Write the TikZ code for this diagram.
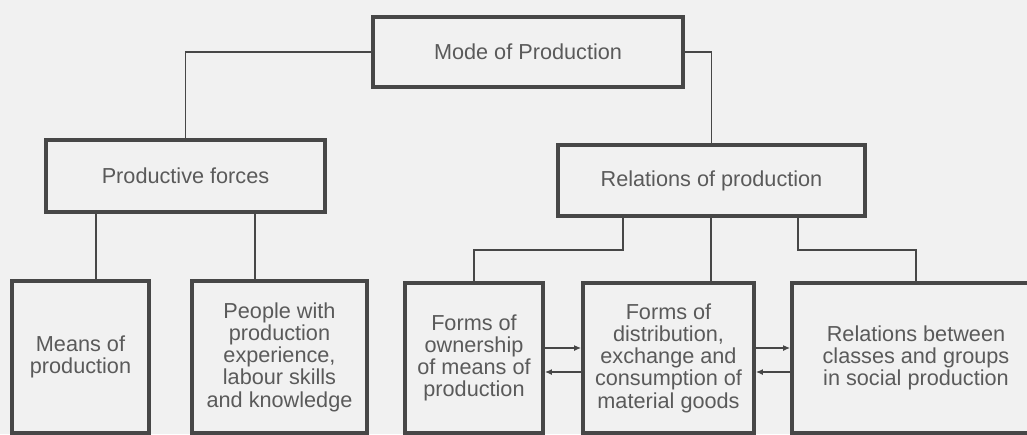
\documentclass[tikz,border=0pt]{standalone}
\usepackage{fontspec}
\setmainfont{Liberation Sans}
\usetikzlibrary{arrows.meta,positioning}
\definecolor{ink}{HTML}{474747}
\definecolor{paper}{HTML}{F1F1F1}

\begin{document}
\begin{tikzpicture}[x=0.03cm, y=-0.03cm, >={Latex[length=6pt,width=5pt]},
  font=\fontsize{18.5}{19}\selectfont,
  box/.style={draw=ink, line width=3pt, text=ink!90, align=center, inner sep=0pt},
  link/.style={draw=ink, line width=1.6pt}]

% page area
\clip (0,0) rectangle (1027,434);
\fill[paper] (0,0) rectangle (1027,434);

%--------------------
% Top: mode of production and its two halves
%--------------------
\node[box, minimum width=9.3cm, minimum height=2.1cm] (modeProd) at (528,52) {Mode of Production};
\node[box, minimum width=8.37cm, minimum height=2.16cm] (prodForces) at (185.5,176) {Productive forces};
\node[box, minimum width=9.21cm, minimum height=2.13cm] (relProd) at (711.5,180.5) {Relations of production};

\draw[link] (modeProd.west) -| (prodForces.north);
\draw[link] (modeProd.east) -| (relProd.north);

%--------------------
% Bottom left: productive forces
%--------------------
\node[box, minimum width=4.11cm, minimum height=4.56cm] (meansProd) at (80.5,357) {Means of\\production};
\node[box, minimum width=5.25cm, minimum height=4.56cm] (people) at (279.5,357)
  {People with\\production\\experience,\\labour skills\\and knowledge};

\draw[link] ([xshift=1.56cm]prodForces.south west) -- ([xshift=1.56cm]prodForces.south west |- meansProd.north);
\draw[link] ([xshift=6.33cm]prodForces.south west) -- ([xshift=6.33cm]prodForces.south west |- people.north);

%--------------------
% Bottom right: relations of production
%--------------------
\node[box, minimum width=4.14cm, minimum height=4.5cm] (ownForms) at (474,358)
  {Forms of\\ownership\\of means of\\production};
\node[box, minimum width=5.13cm, minimum height=4.5cm] (distForms) at (668.5,358)
  {Forms of\\distribution,\\exchange and\\consumption of\\material goods};
\node[box, minimum width=7.44cm, minimum height=4.5cm] (relGroups) at (916,358)
  {Relations between\\classes and groups\\in social production};

\draw[link] ([xshift=2.01cm]relProd.south west) -- ++(0,32) -| (ownForms.north);
\draw[link] ([xshift=4.65cm]relProd.south west) -- ([xshift=4.65cm]relProd.south west |- distForms.north);
\draw[link] ([xshift=7.26cm]relProd.south west) -- ++(0,32) -| (relGroups.north);

% two-way links between the forms
\draw[link,->] ([yshift=0.3cm]ownForms.east) -- ([yshift=0.3cm]distForms.west);
\draw[link,->] ([yshift=-0.42cm]distForms.west) -- ([yshift=-0.42cm]ownForms.east);
\draw[link,->] ([yshift=0.3cm]distForms.east) -- ([yshift=0.3cm]relGroups.west);
\draw[link,->] ([yshift=-0.42cm]relGroups.west) -- ([yshift=-0.42cm]distForms.east);

\end{tikzpicture}
\end{document}
